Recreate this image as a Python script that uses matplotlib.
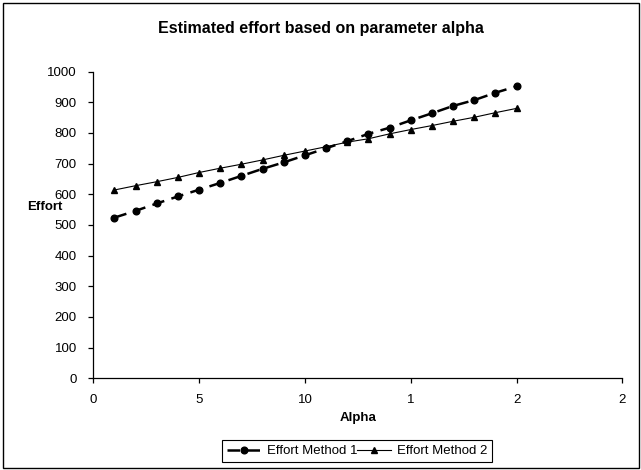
import matplotlib
matplotlib.use("Agg")
import matplotlib.pyplot as plt
from matplotlib.patches import Rectangle

plt.rcParams['font.family'] = ['Liberation Sans', 'DejaVu Sans']

alpha = list(range(1, 21))
effort_method1 = [524, 546, 570, 593, 615, 637, 660, 683, 704, 727,
                  750, 773, 797, 817, 841, 864, 888, 907, 931, 952]
effort_method2 = [614, 628, 641, 655, 671, 685, 698, 712, 727, 741,
                  755, 770, 781, 797, 811, 824, 838, 851, 866, 880]
xtick_pos = [0, 5, 10, 15, 20, 25]
xtick_labels = ["0", "5", "10", "1", "2", "2"]
ytick_pos = list(range(0, 1001, 100))

W, H = 641, 470
fig = plt.figure(figsize=(W / 100, H / 100), dpi=100)
ax = fig.add_axes([93.3 / W, 1 - 378.3 / H, (622.3 - 93.3) / W, (378.3 - 71.6) / H])

l1, = ax.plot(alpha, effort_method1, color='black', lw=1.8, linestyle=(0, (5, 3)),
              marker='o', markersize=4.8, label='Effort Method 1')
l2, = ax.plot(alpha, effort_method2, color='black', lw=0.8, linestyle='-',
              marker='^', markersize=4, label='Effort Method 2')

ax.set_xlim(0, 25)
ax.set_ylim(0, 1000)
ax.set_xticks(xtick_pos)
ax.set_xticklabels(xtick_labels)
ax.set_yticks(ytick_pos)
for s in ['top', 'right']:
    ax.spines[s].set_visible(False)
for s in ['left', 'bottom']:
    ax.spines[s].set_linewidth(0.9)
ax.tick_params(axis='both', direction='out', length=3.5, width=0.9, labelsize=9.5)
ax.tick_params(axis='y', pad=8.4)
ax.tick_params(axis='x', pad=8)

fig.text(0.5, 1 - 28 / H, 'Estimated effort based on parameter alpha',
         ha='center', va='center', fontsize=11.5, fontweight='bold')
fig.text(27 / W, 1 - 207 / H, 'Effort', ha='left', va='center',
         fontsize=9.5, fontweight='bold')
fig.text(357.8 / W, 1 - 418 / H, 'Alpha', ha='center', va='center',
         fontsize=9.5, fontweight='bold')

leg = fig.legend(handles=[l1, l2], loc='center', ncol=2,
                 bbox_to_anchor=(357 / W, 1 - 451 / H), fontsize=9.5,
                 frameon=True, fancybox=False, framealpha=1, edgecolor='black',
                 handlelength=2.6, handletextpad=0.4, columnspacing=0.0,
                 borderpad=0.35, borderaxespad=0)
leg.get_frame().set_linewidth(0.8)

fig.patches.append(Rectangle((2.5 / W, 2.5 / H), (W - 5) / W, (H - 5) / H,
                             transform=fig.transFigure, fill=False,
                             edgecolor='black', linewidth=1.0))

fig.savefig('out.png', dpi=100)
